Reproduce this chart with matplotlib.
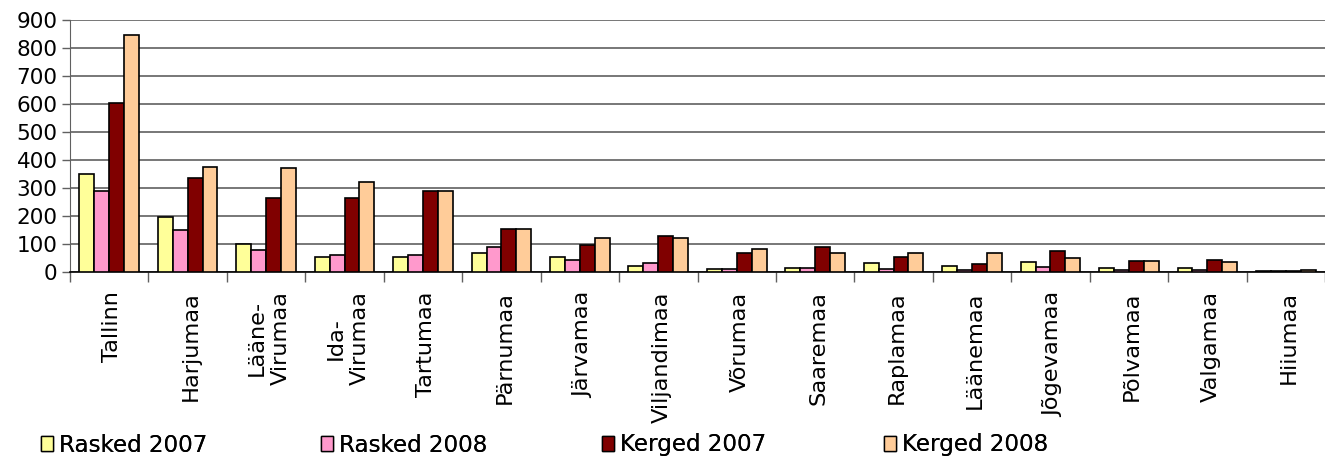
import numpy as np
import matplotlib.pyplot as plt
from matplotlib.patches import Patch

# Data
categories = ["Tallinn", "Harjumaa", "Lääne-\nVirumaa", "Ida-\nVirumaa", "Tartumaa",
              "Pärnumaa", "Järvamaa", "Viljandimaa", "Võrumaa", "Saaremaa",
              "Raplamaa", "Läänemaa", "Jõgevamaa", "Põlvamaa", "Valgamaa", "Hiiumaa"]
rasked_2007 = [350, 195, 100, 55, 55, 68, 52, 23, 10, 13, 33, 23, 35, 13, 13, 2]
rasked_2008 = [290, 150, 80, 60, 60, 88, 43, 33, 10, 13, 12, 8, 19, 8, 8, 2]
kerged_2007 = [605, 335, 265, 265, 290, 153, 96, 127, 67, 88, 52, 30, 74, 38, 44, 2]
kerged_2008 = [845, 375, 370, 320, 290, 152, 122, 122, 83, 67, 69, 69, 49, 38, 35, 7]
series_names = ["Rasked 2007", "Rasked 2008", "Kerged 2007", "Kerged 2008"]
yticks = [0, 100, 200, 300, 400, 500, 600, 700, 800, 900]

colors = ["#FFFF99", "#FF99CC", "#800000", "#FFCC99"]
fs = 15.5

fig = plt.figure(figsize=(13.25, 4.59), dpi=100)
ax = fig.add_axes([70 / 1325, 1 - 272 / 459, 1 - 70 / 1325, (272 - 20) / 459])

x = np.arange(len(categories))
w = 0.19
all_series = [rasked_2007, rasked_2008, kerged_2007, kerged_2008]
for i, vals in enumerate(all_series):
    ax.bar(x + (i - 1.5) * w, vals, width=w, color=colors[i], edgecolor="black",
           linewidth=1.2, zorder=3)

ax.set_xlim(-0.5, len(categories) - 0.5)
ax.set_ylim(0, 900)
ax.set_yticks(yticks)
ax.set_yticklabels([str(v) for v in yticks], fontsize=fs)
ax.yaxis.grid(True, color="#606060", linewidth=1.2, zorder=0)

ax.set_xticks(x + 0.04)
ax.set_xticklabels(categories, rotation=90, fontsize=16.2, va="top", ha="center",
                   linespacing=1.25)
ax.tick_params(axis="x", which="major", length=0, pad=14)
ax.set_xticks(np.arange(len(categories) + 1) - 0.5, minor=True)
ax.tick_params(axis="x", which="minor", length=7, width=1, color="#606060", direction="out")
ax.tick_params(axis="y", length=6, width=1, color="#606060", direction="out", pad=3)

for s in ["top", "right"]:
    ax.spines[s].set_visible(False)
ax.spines["left"].set_color("#606060")
ax.spines["bottom"].set_color("black")
ax.spines["bottom"].set_linewidth(1.2)

# legend entries spread along the bottom
leg_x = [41, 321, 602, 884]
for i, name in enumerate(series_names):
    leg = fig.legend(handles=[Patch(facecolor=colors[i], edgecolor="black", linewidth=1)],
                     labels=[name], loc="center left",
                     bbox_to_anchor=(leg_x[i] / 1325, 1 - 445 / 459),
                     frameon=False, fontsize=16.6, handlelength=0.5, handleheight=0.65,
                     handletextpad=0.3, borderpad=0, borderaxespad=0)
    fig.add_artist(leg)

fig.savefig("out.png", dpi=100)
